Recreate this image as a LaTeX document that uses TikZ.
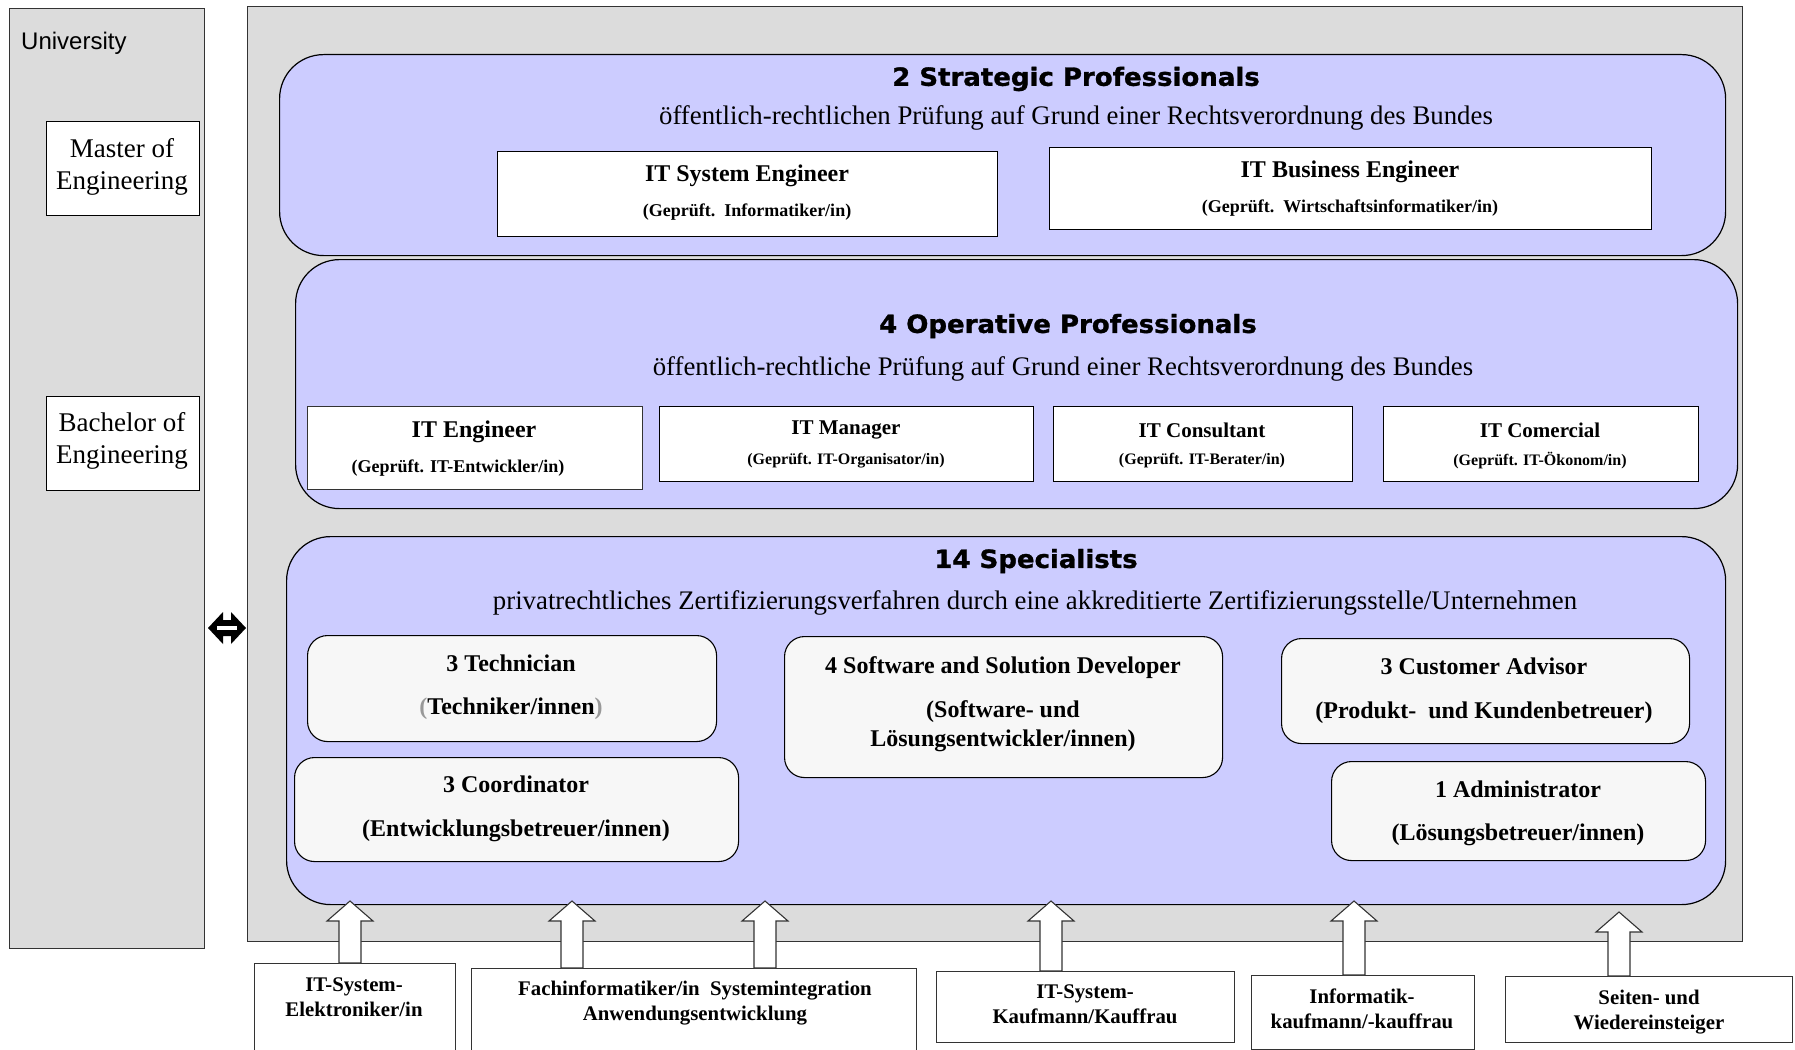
\documentclass[tikz,border=0pt]{standalone}
\usepackage{fontspec}
\setmainfont{Liberation Serif}
\newfontfamily\headfont{DejaVu Sans Bold}[FakeStretch=1.04,FakeBold=1.2]
\newfontfamily\unifont{Liberation Sans}
\usetikzlibrary{calc}
\definecolor{panelgray}{HTML}{DCDCDC}
\definecolor{lav}{HTML}{CCCCFF}
\definecolor{boxgray}{HTML}{F7F7F7}
\definecolor{edge}{HTML}{333333}
\definecolor{paren}{HTML}{999999}
\newcommand\blockup[3]{\draw[arr] (#1-11,#2) -- (#1-11,#3+20) -- (#1-23,#3+20) -- (#1,#3) -- (#1+23,#3+20) -- (#1+11,#3+20) -- (#1+11,#2) -- cycle;}
\begin{document}
\begin{tikzpicture}[x=1pt,y=-1pt,
  panel/.style={draw=edge, fill=panelgray, line width=1.3pt, anchor=north west, inner sep=0},
  group/.style={draw=black, fill=lav, line width=1.2pt, rounded corners=44pt, anchor=north west, inner sep=0},
  wbox/.style={draw=black, fill=white, line width=1.2pt, anchor=north west, inner sep=0},
  sbox/.style={draw=black, fill=boxgray, line width=1.1pt, rounded corners=20pt, anchor=north west, inner sep=0},
  head/.style={font=\headfont\fontsize{25}{30}\selectfont, inner sep=0},
  subt/.style={font=\fontsize{26.8}{31}\selectfont, inner sep=0},
  tbig/.style={font=\bfseries\fontsize{24}{29}\selectfont, inner sep=0, align=center},
  tsmall/.style={font=\bfseries\fontsize{18}{22}\selectfont, inner sep=0},
  tmid/.style={font=\bfseries\fontsize{21}{25}\selectfont, inner sep=0},
  tmini/.style={font=\bfseries\fontsize{16}{20}\selectfont, inner sep=0},
  tbot/.style={font=\bfseries\fontsize{20.8}{25.5}\selectfont, inner sep=0, align=center},
  degree/.style={font=\fontsize{27}{32}\selectfont, inner sep=0, align=center},
  arr/.style={draw=edge, fill=white, line width=1.1pt, line join=miter}
]
\useasboundingbox (0,0) rectangle (1795,1049);

% University column
\node[panel, minimum width=195pt, minimum height=940pt] (uni) at (9,8) {};
\node[font=\unifont\fontsize{24}{28}\selectfont, inner sep=0, anchor=west] (unitxt) at (21,43) {University};
\node[wbox, minimum width=153pt, minimum height=94pt] (master) at (46,121) {};
\node[degree] (mastertxt) at (122,167) {Master of\\Engineering};
\node[wbox, minimum width=153pt, minimum height=94pt] (bachelor) at (46,396) {};
\node[degree] (bachelortxt) at (122,441) {Bachelor of\\Engineering};

% main panel
\node[panel, minimum width=1495pt, minimum height=935pt] (main) at (247,6) {};

% double arrow
\coordinate (dl) at (208,628);
\coordinate (dr) at (246,628);
\fill[black] (dl) -- ++(15,-16) -- ++(0,8) -- ++(8,0) -- ++(0,-8) -- (dr) -- ++(-15,16) -- ++(0,-8) -- ++(-8,0) -- ++(0,8) -- cycle;
\fill[white] ($(dl)+(9,-1.6)$) rectangle ($(dr)+(-9,1.6)$);

% Strategic
\node[group, minimum width=1446pt, minimum height=201pt] (strat) at (279,54) {};
\node[head] (strath) at (1076,79) {2 Strategic Professionals};
\node[subt] (strats) at (1076,118) {öffentlich-rechtlichen Prüfung auf Grund einer Rechtsverordnung des Bundes};
\node[wbox, minimum width=500pt, minimum height=85pt] (ise) at (497,151) {};
\node[tbig] (iset) at (747,176) {IT System Engineer};
\node[tsmall] (ises) at (747,212) {(Geprüft.\ \ Informatiker/in)};
\node[wbox, minimum width=602pt, minimum height=82pt] (ibe) at (1049,147) {};
\node[tbig] (ibet) at (1350,172) {IT Business Engineer};
\node[tsmall] (ibes) at (1350,208) {(Geprüft.\ \ Wirtschaftsinformatiker/in)};

% Operative
\node[group, minimum width=1442pt, minimum height=249pt] (oper) at (295,259) {};
\node[head] (operh) at (1068,326) {4 Operative Professionals};
\node[subt] (opers) at (1063,369) {öffentlich-rechtliche Prüfung auf Grund einer Rechtsverordnung des Bundes};
\node[wbox, draw=edge, minimum width=335pt, minimum height=83pt] (ite) at (307,406) {};
\node[tbig] (itet) at (474,432) {IT Engineer};
\node[tsmall] (ites) at (458,468) {(Geprüft. IT-Entwickler/in)};
\node[wbox, minimum width=374pt, minimum height=75pt] (itm) at (659,406) {};
\node[tmid] (itmt) at (846,430) {IT Manager};
\node[tmini] (itms) at (846,461) {(Geprüft. IT-Organisator/in)};
\node[wbox, minimum width=299pt, minimum height=75pt] (itc) at (1053,406) {};
\node[tmid] (itct) at (1202,430) {IT Consultant};
\node[tmini] (itcs) at (1202,461) {(Geprüft. IT-Berater/in)};
\node[wbox, minimum width=315pt, minimum height=75pt] (itk) at (1383,406) {};
\node[tmid] (itkt) at (1540,430) {IT Comercial};
\node[tmini] (itks) at (1540,461) {(Geprüft. IT-Ökonom/in)};

% Specialists
\node[group, minimum width=1439pt, minimum height=368pt] (spec) at (286,536) {};
\node[head] (spech) at (1036,561) {14 Specialists};
\node[subt] (specs) at (1035,603) {privatrechtliches Zertifizierungsverfahren durch eine akkreditierte Zertifizierungsstelle/Unternehmen};

\node[sbox, minimum width=409pt, minimum height=106pt] (tech) at (307,635) {};
\node[tbig] (techt) at (511,663) {3 Technician};
\node[tbig] (techs) at (511,709) {\textcolor{paren}{(}Techniker/innen\textcolor{paren}{)}};
\node[sbox, minimum width=438pt, minimum height=141pt] (soft) at (784,636) {};
\node[tbig] (softt) at (1003,668) {4 Software and Solution Developer};
\node[tbig] (softs) at (1003,726) {(Software- und\\Lösungsentwickler/innen)};
\node[sbox, minimum width=408pt, minimum height=105pt] (cust) at (1281,638) {};
\node[tbig] (custt) at (1484,666) {3 Customer Advisor};
\node[tbig] (custs) at (1484,713) {(Produkt-\ \ und Kundenbetreuer)};
\node[sbox, minimum width=444pt, minimum height=104pt] (coord) at (294,757) {};
\node[tbig] (coordt) at (516,784) {3 Coordinator};
\node[tbig] (coords) at (516,831) {(Entwicklungsbetreuer/innen)};
\node[sbox, minimum width=374pt, minimum height=99pt] (admin) at (1331,761) {};
\node[tbig] (admint) at (1518,789) {1 Administrator};
\node[tbig] (admins) at (1518,835) {(Lösungsbetreuer/innen)};

% bottom boxes
\node[wbox, draw=edge, minimum width=201pt, minimum height=100pt] (b1) at (254,963) {};
\node[tbot] (b1t) at (354,997) {IT-System-\\Elektroniker/in};
\node[wbox, draw=edge, minimum width=445pt, minimum height=95pt] (b2) at (471,968) {};
\node[tbot] (b2t) at (695,1003) {Fachinformatiker/in\ \ Systemintegration\\Anwendungsentwicklung};
\node[wbox, draw=edge, minimum width=298pt, minimum height=71pt] (b3) at (936,971) {};
\node[tbot] (b3t) at (1085,1004) {IT-System-\\Kaufmann/Kauffrau};
\node[wbox, draw=edge, minimum width=223pt, minimum height=74pt] (b4) at (1251,975) {};
\node[tbot] (b4t) at (1362,1009) {Informatik-\\kaufmann/-kauffrau};
\node[wbox, draw=edge, minimum width=287pt, minimum height=66pt] (b5) at (1505,976) {};
\node[tbot] (b5t) at (1649,1012) {Seiten- und\\Wiedereinsteiger};

% block arrows from the bottom boxes up into the specialists
\blockup{350}{963}{901}
\blockup{572}{968}{901}
\blockup{765}{968}{901}
\blockup{1051}{971}{901}
\blockup{1354}{975}{901}
\blockup{1619}{976}{912}
\end{tikzpicture}
\end{document}
